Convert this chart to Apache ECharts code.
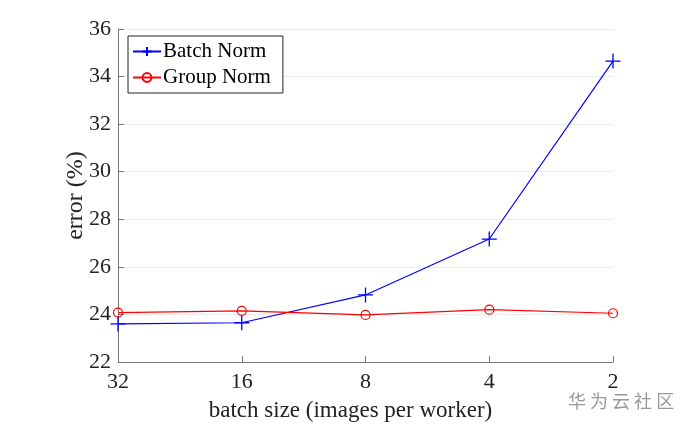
<!DOCTYPE html>
<html><head><meta charset="utf-8">
<script src="https://cdn.jsdelivr.net/npm/echarts@6/dist/echarts.min.js"></script>
<style>html,body{margin:0;padding:0;background:#fff}#c{width:689px;height:427px}</style>
</head><body><div id="c"></div>
<script>
const categories = ['32','16','8','4','2'];
const batchNorm = [23.6, 23.65, 24.82, 27.17, 34.65];
const groupNorm = [24.08, 24.15, 23.98, 24.2, 24.05];
const yTicks = [22, 24, 26, 28, 30, 32, 34, 36];
const F = 'Liberation Serif';
const chart = echarts.init(document.getElementById('c'));
chart.setOption({
  animation: false,
  backgroundColor: '#fff',
  grid: {left: 118, right: 76, top: 29, bottom: 65, containLabel: false},
  legend: {
    left: 128, top: 36, orient: 'vertical', itemGap: 5, itemWidth: 28, itemHeight: 11,
    padding: [5, 12, 5, 4],
    borderColor: '#222', borderWidth: 1, backgroundColor: '#fff',
    textStyle: {fontFamily: F, fontSize: 21, color: '#000', padding: [0,0,0,-3], lineHeight: 21},
    data: ['Batch Norm', 'Group Norm']
  },
  xAxis: {
    type: 'category', data: categories, boundaryGap: false,
    name: 'batch size (images per worker)', nameLocation: 'middle', nameGap: 37,
    nameTextStyle: {fontFamily: F, fontSize: 23, color: '#222', padding: [0, 30, 0, 0]},
    axisLine: {lineStyle: {color: '#777', width: 1}},
    axisTick: {inside: true, length: 6, lineStyle: {color: '#777'}},
    axisLabel: {fontFamily: F, fontSize: 22, color: '#222', margin: 9},
    splitLine: {show: false}
  },
  yAxis: {
    type: 'value', min: 22, max: 36, interval: 2,
    name: 'error (%)', nameLocation: 'middle', nameGap: 30, nameRotate: 90, nameMoveOverlap: false,
    nameTextStyle: {fontFamily: F, fontSize: 24, color: '#222'},
    axisLine: {show: true, lineStyle: {color: '#777', width: 1}},
    axisTick: {show: true, inside: true, length: 6, lineStyle: {color: '#777'}},
    axisLabel: {fontFamily: F, fontSize: 22, color: '#222', margin: 7,
      formatter: v => yTicks.includes(v) ? String(v) : ''},
    splitLine: {show: true, lineStyle: {color: '#ebebeb', width: 1}}
  },
  series: [
    {name: 'Batch Norm', type: 'line', data: batchNorm, color: '#0000ff',
     lineStyle: {width: 1.2, color: '#0000ff'},
     symbol: 'path://M0,5L10,5M5,0L5,10', symbolSize: 15,
     itemStyle: {color: 'none', borderColor: '#0000ff', borderWidth: 1.3}},
    {name: 'Group Norm', type: 'line', data: groupNorm, color: '#ff0000',
     lineStyle: {width: 1.2, color: '#ff0000'},
     symbol: 'circle', symbolSize: 9,
     itemStyle: {color: 'rgba(255,255,255,0)', borderColor: '#ff0000', borderWidth: 1.2}}
  ],
  graphic: [{type: 'text', left: 568, top: 392,
    style: {text: '华 为 云 社 区', fontFamily: 'Noto Sans CJK SC', fontSize: 18, fill: '#999'}}]
});
</script></body></html>
